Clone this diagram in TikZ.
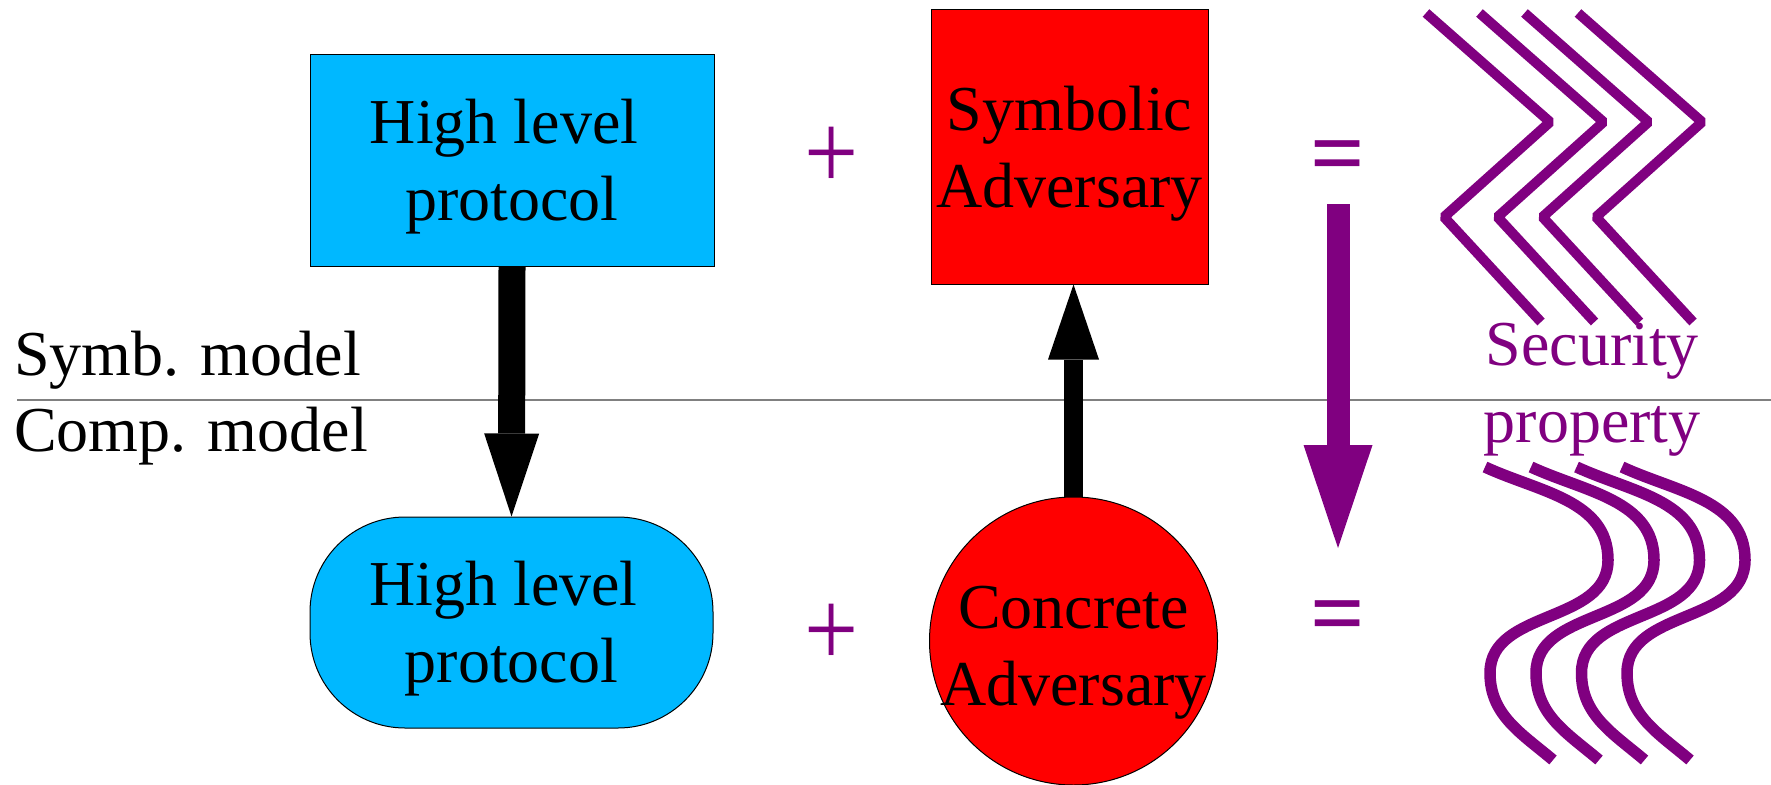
\documentclass[tikz,border=0pt]{standalone}
\usepackage{fontspec}
\setmainfont{Liberation Serif}
\usetikzlibrary{arrows.meta}
\definecolor{skyfill}{RGB}{0,184,255}
\definecolor{advred}{RGB}{255,0,0}
\definecolor{propviolet}{RGB}{128,0,128}
\definecolor{rulegray}{RGB}{128,128,128}

\begin{document}
\begin{tikzpicture}[x=1pt,y=-1pt,
  txt/.style={font=\fontsize{64}{77}\selectfont, align=center, inner sep=0pt},
  protobox/.style={draw=black, line width=1pt, fill=skyfill, inner sep=0pt,
                   minimum width=404pt, minimum height=211pt},
  advshape/.style={draw=black, line width=1pt, fill=advred, inner sep=0pt},
  blockarrow/.style n args={4}{draw=#1, line width=#2,
      -{Triangle[width=#3, length=#4, line width=0pt, fill=#1]}},
  plussign/.style={font=\fontsize{96}{96}\selectfont, text=propviolet, inner sep=0pt},
  eqsign/.style={font=\fontsize{96}{96}\selectfont\bfseries, text=propviolet, inner sep=0pt},
  stripe/.style={draw=propviolet, line cap=butt}
]
\useasboundingbox (0,0) rectangle (1771,784);

% boundary between the two models
\draw[rulegray, line width=1.7pt] (17,400) -- (1771,400);
\node[txt, anchor=base west] (symb) at (14,375) {Symb. model};
\node[txt, anchor=base west] (comp) at (14,451.7) {Comp. model};

% protocol boxes
\node[protobox] (hp1) at (512,160.5) {};
\node[txt] (hp1txt) at (512,167.1) {High level\kern.25em\\protocol};
\node[protobox, rounded corners=95pt, minimum width=403pt] (hp2) at (511.5,622.5) {};
\node[txt] (hp2txt) at (511.5,628.6) {High level\kern.25em\\protocol};

% adversaries
\node[advshape, rectangle, minimum width=277pt, minimum height=274pt] (adv1) at (1069.5,147) {};
\node[txt] (adv1txt) at (1069.5,153.6) {Symbolic\\Adversary};
\node[advshape, circle, minimum size=288pt] (adv2) at (1073.5,641) {};
\node[txt] (adv2txt) at (1073.5,652.5) {Concrete\\Adversary};

% plus and equals signs
\node[plussign] (plusA) at (831.6,158) {\scalebox{1}[1.15]{+}};
\node[plussign] (plusB) at (831.6,635.5) {\scalebox{1}[1.15]{+}};
\node[eqsign] (eqA) at (1338,163.4) {=};
\node[eqsign] (eqB) at (1338,623.4) {=};

% arrows between the models
\draw[blockarrow={black}{27pt}{55pt}{83pt}] (hp1.south) -- (hp2.north);
\draw[blockarrow={black}{19pt}{51pt}{75pt}] (adv2.north) -- (adv2.north |- adv1.south);
\coordinate (propTop) at (1338,204);
\coordinate (propBot) at (1338,548);
\draw[blockarrow={propviolet}{23pt}{69pt}{103pt}] (propTop) -- (propBot);

% security property: sharp chevrons above, smooth waves below
\foreach \d in {0,53.5,98.5,152}
  \draw[stripe, line width=10pt, line join=bevel]
    (1426+\d,13) -- (1550+\d,122) -- (1444+\d,217) -- (1541+\d,322);
\node[txt, text=propviolet] (sec) at (1592.3,389.7) {Security\\property};
\foreach \d in {0,46,91.5,137}
  \draw[stripe, line width=11.5pt]
    (1485+\d,467) .. controls (1539+\d,492) and (1608+\d,500) .. (1608+\d,560)
    .. controls (1608+\d,624) and (1490+\d,609) .. (1490+\d,673)
    .. controls (1490+\d,715) and (1521+\d,733) .. (1553+\d,760);
\end{tikzpicture}
\end{document}
